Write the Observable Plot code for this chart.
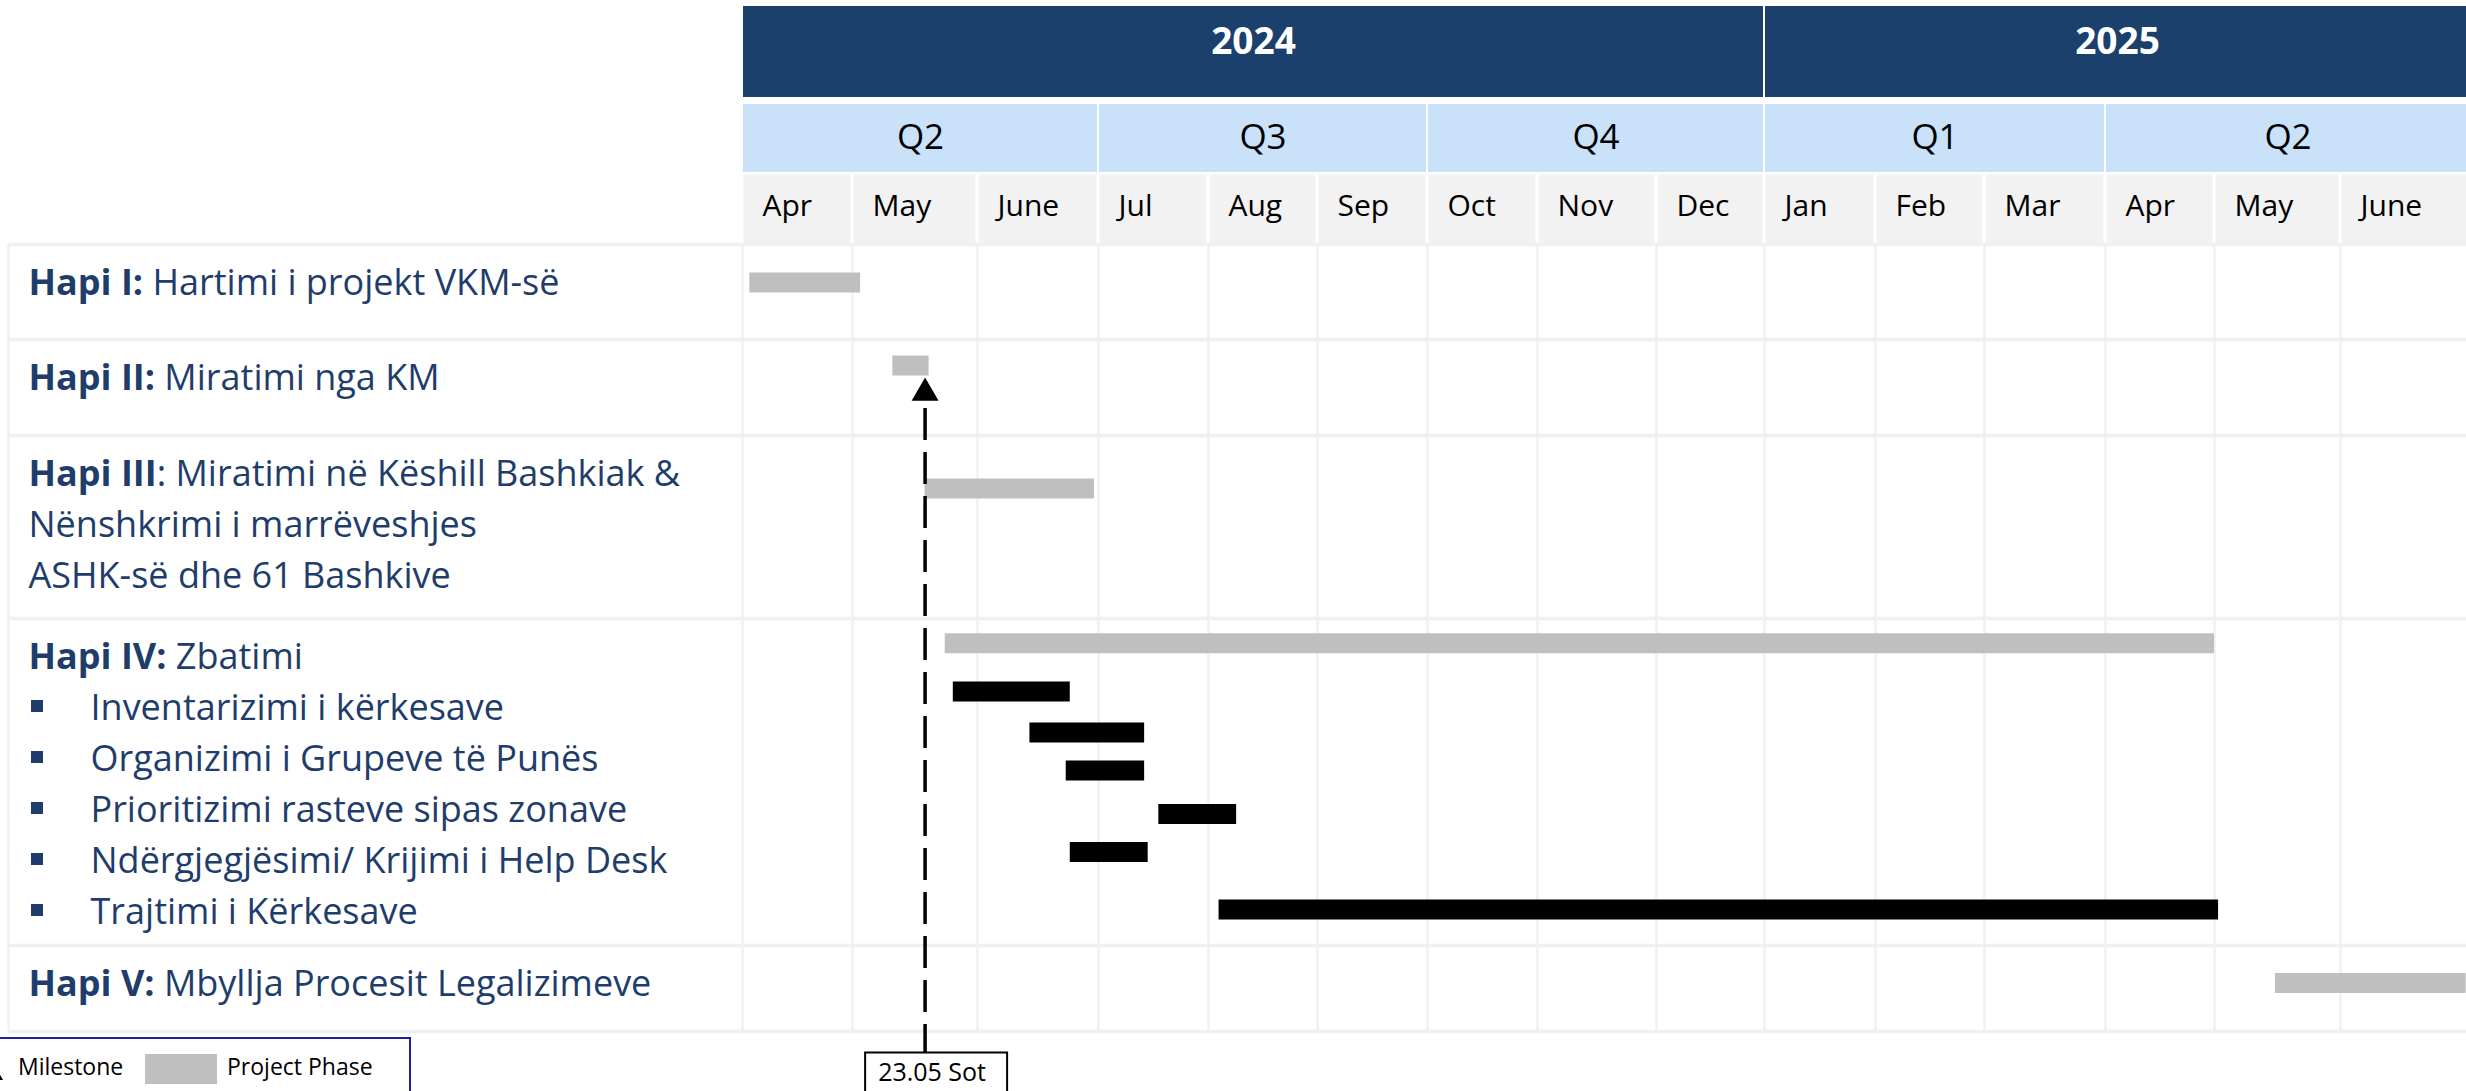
<!DOCTYPE html>
<html>
<head>
<meta charset="utf-8">
<script src="https://cdn.jsdelivr.net/npm/d3@7"></script>
<script src="https://cdn.jsdelivr.net/npm/@observablehq/plot@0.6"></script>
<style>
  html, body { margin: 0; padding: 0; background: #fff; overflow: hidden; }
  #wrap { position: relative; width: 2466px; height: 1091px; overflow: hidden; }
  #legend { position: absolute; left: -40px; top: 1037px; width: 447px; height: 80px;
            border: 2px solid #1f1f99; background: #fff; font-family: "Open Sans", sans-serif;
            font-size: 23px; color: #000; }
  #legend .t { position: absolute; top: 12px; line-height: 30px; white-space: nowrap; }
  #legend .sw { position: absolute; left: 183px; top: 15px; width: 72px; height: 30px; background: #bfbfbf; }
  #legend .tri { position: absolute; left: 25px; top: 27px; width: 0; height: 0;
                 border-left: 8px solid transparent; border-right: 8px solid transparent; border-bottom: 14px solid #000; }
</style>
</head>
<body>
<div id="wrap">
  <div id="chart"></div>
  <div id="legend">
    <div class="tri"></div>
    <div class="t" style="left:56px">Milestone</div>
    <div class="sw"></div>
    <div class="t" style="left:265px">Project Phase</div>
  </div>
</div>
<script>
// ---------------- DATA ----------------
const years = ["2024", "2025"];
const yearMonthCounts = [9, 6];
const quarters = ["Q2", "Q3", "Q4", "Q1", "Q2"];
const quarterMonthCounts = [3, 3, 3, 3, 3];
const months = ["Apr", "May", "June", "Jul", "Aug", "Sep", "Oct", "Nov", "Dec", "Jan", "Feb", "Mar", "Apr", "May", "June"];

const stepTitles = ["Hapi I:", "Hapi II:", "Hapi III", "Hapi IV:", "Hapi V:"];
const stepTexts = [
  [" Hartimi i projekt VKM-së"],
  [" Miratimi nga KM"],
  [": Miratimi në Këshill Bashkiak &", "Nënshkrimi i marrëveshjes", "ASHK-së dhe 61 Bashkive"],
  [" Zbatimi"],
  [" Mbyllja Procesit Legalizimeve"]
];
const subActivities = [
  "Inventarizimi i kërkesave",
  "Organizimi i Grupeve të Punës",
  "Prioritizimi rasteve sipas zonave",
  "Ndërgjegjësimi/ Krijimi i Help Desk",
  "Trajtimi i Kërkesave"
];

// project phases (grey bars): start, end, vertical position (y value in table-row units)
const phaseNames  = ["Hapi I", "Hapi II", "Hapi III", "Hapi IV", "Hapi V"];
const phaseStart  = ["2024-04-03", "2024-05-11", "2024-05-19", "2024-05-24", "2025-05-16"];
const phaseEnd    = ["2024-05-03", "2024-05-20", "2024-06-30", "2025-05-01", "2025-06-30"];
const phaseY      = [0.40, 1.27, 2.29, 3.076, 4.436];

// activities of Hapi IV (black bars)
const activityIds   = ["IV.1", "IV.2", "IV.3", "IV.4", "IV.5", "IV.6"];
const activityStart = ["2024-05-26", "2024-06-14", "2024-06-23", "2024-07-18", "2024-06-24", "2024-08-04"];
const activityEnd   = ["2024-06-24", "2024-07-14", "2024-07-14", "2024-08-09", "2024-07-15", "2025-05-02"];
const activityY     = [3.223, 3.349, 3.465, 3.598, 3.714, 3.890];

// milestone
const milestoneDate = "2024-05-19";
const milestoneLabel = "23.05 Sot";
const milestonePhase = "Hapi II";

// ---------------- LAYOUT (scales) ----------------
const LABEL_COL = -1;                      // the text column left of the months
const xDomain = [LABEL_COL, ...d3.range(16)];
const xRange  = [8, 742, 852, 977, 1098, 1208, 1317, 1427, 1537, 1656, 1764, 1875, 1984, 2105, 2214, 2340, 2470];
const yDomain = [-3, -2, -1, 0, 1, 2, 3, 4, 5];          // year, quarter, month bands, then 5 table rows
const yRange  = [6, 100.5, 173.5, 244, 339, 435, 618, 945, 1031];
const xs = d3.scaleLinear(xDomain, xRange);

// month index since April 2024 (fractional)
function mIdx(s) {
  const [y, m, d] = s.split("-").map(Number);
  const dim = new Date(y, m, 0).getDate();
  return (y - 2024) * 12 + (m - 4) + (d - 1) / dim;
}
function spans(counts, labels) {
  let acc = 0;
  return labels.map((label, i) => { const x1 = acc; acc += counts[i]; return {label, x1, x2: acc}; });
}
function visualMid(d) { return xs.invert((xs(d.x1) + xs(d.x2)) / 2); }

const yearCells = spans(yearMonthCounts, years);
const quarterCells = spans(quarterMonthCounts, quarters);
const monthCells = months.map((label, i) => ({label, x1: i, x2: i + 1}));

const phases = phaseNames.map((name, i) => ({name, start: mIdx(phaseStart[i]), end: mIdx(phaseEnd[i]), y: phaseY[i]}));
const activities = activityIds.map((id, i) => ({id, start: mIdx(activityStart[i]), end: mIdx(activityEnd[i]), y: activityY[i]}));
const milestone = [{x: mIdx(milestoneDate), label: milestoneLabel, y: phases.find(p => p.name === milestonePhase).y}];

const labelLines = [];
stepTexts.forEach((lines, r) => lines.forEach((t, k) => labelLines.push({row: r, line: k, bold: k === 0 ? stepTitles[r] : "", text: t, bullet: false})));
subActivities.forEach((t, i) => labelLines.push({row: 3, line: i + 1, bold: "", text: t, bullet: true}));

const NAVY_TEXT = "#1f3d6b";
const LINE_FIRST = 38.5, LINE_PITCH = 51;

const labelMarks = d3.range(6).flatMap(k => {
  const plain = labelLines.filter(d => d.line === k && !d.bullet);
  const bul = labelLines.filter(d => d.line === k && d.bullet);
  const dy = LINE_FIRST + LINE_PITCH * k;
  return [
    Plot.text(plain, {x: LABEL_COL, y: "row", text: d => d.bold + d.text, dx: 20, dy, textAnchor: "start", lineAnchor: "middle",
      fontSize: 36, fill: NAVY_TEXT}),
    Plot.dot(bul, {x: LABEL_COL, y: "row", dx: 28.5, dy: dy - 2, symbol: "square", r: 6.77, fill: NAVY_TEXT, stroke: "none"}),
    Plot.text(bul, {x: LABEL_COL, y: "row", text: "text", dx: 82, dy, textAnchor: "start", lineAnchor: "middle",
      fontSize: 36, fill: NAVY_TEXT})
  ];
});

const chart = Plot.plot({
  width: 2466,
  height: 1091,
  margin: 0,
  x: {type: "linear", domain: xDomain, range: xRange, axis: null},
  y: {type: "linear", domain: yDomain, range: yRange, axis: null},
  style: {fontFamily: '"Open Sans", sans-serif', background: "white", overflow: "hidden"},
  marks: [
    // header
    Plot.rect(yearCells, {x1: "x1", x2: "x2", y1: -3, y2: -2, fill: "#1b406c", insetLeft: 1, insetRight: 1, insetBottom: 3.5}),
    Plot.text(yearCells, {x: visualMid, y: -2.5, dy: -12, text: "label", fill: "white", fontWeight: "bold", fontSize: 37, lineAnchor: "middle"}),
    Plot.rect(quarterCells, {x1: "x1", x2: "x2", y1: -2, y2: -1, fill: "#c9e2f9", insetLeft: 1, insetRight: 1, insetTop: 3.5, insetBottom: 1.5}),
    Plot.text(quarterCells, {x: visualMid, y: -1.5, text: "label", fill: "#000", fontSize: 35, lineAnchor: "middle"}),
    Plot.rect(monthCells, {x1: "x1", x2: "x2", y1: -1, y2: 0, fill: "#f2f2f2", insetLeft: 1.5, insetRight: 1.5, insetTop: 1, insetBottom: 1}),
    Plot.text(monthCells, {x: "x1", y: -0.5, dx: 20, dy: -2.5, text: "label", fill: "#000", fontSize: 30, textAnchor: "start", lineAnchor: "middle"}),
    // table grid
    Plot.ruleX(xDomain, {x: d => d, y1: 0, y2: 5, stroke: "#f0f0f0", strokeWidth: 2.5}),
    Plot.ruleY(d3.range(6), {y: d => d, x1: LABEL_COL, x2: 15, stroke: "#f0f0f0", strokeWidth: 3.5}),
    // labels
    ...labelMarks,
    // bars
    Plot.ruleY(phases, {x1: "start", x2: "end", y: "y", stroke: "#bfbfbf", strokeWidth: 20}),
    Plot.ruleY(activities, {x1: "start", x2: "end", y: "y", stroke: "#000", strokeWidth: 20}),
    // milestone
    Plot.ruleX(milestone, {x: "x", y1: "y", y2: 5, insetTop: 43, insetBottom: -21, stroke: "#000", strokeWidth: 3.5, strokeDasharray: "32,12"}),
    Plot.dot(milestone, {x: "x", y: "y", dy: 27.6, symbol: "triangle", r: 10, fill: "#000", stroke: "none"}),
    Plot.text(milestone, {x: "x", y: 5, dx: 7, dy: 41, text: "label", fontSize: 25, fill: "#000", lineAnchor: "middle"})
  ]
});

document.getElementById("chart").appendChild(chart);

// mixed bold / regular step titles (matched by their text content)
const svgNS = "http://www.w3.org/2000/svg";
const allTexts = Array.from(chart.querySelectorAll("text"));
labelLines.filter(d => d.bold).forEach(d => {
  const full = d.bold + d.text;
  const el = allTexts.find(t => t.textContent === full);
  if (!el) return;
  el.textContent = "";
  el.style.whiteSpace = "pre";
  const b = document.createElementNS(svgNS, "tspan");
  b.setAttribute("font-weight", "bold");
  b.textContent = d.bold;
  const t = document.createElementNS(svgNS, "tspan");
  t.textContent = d.text;
  el.appendChild(b); el.appendChild(t);
});

// box around milestone label
allTexts.filter(t => t.textContent === milestoneLabel).forEach(el => {
  const bb = el.getBBox();
  const r = document.createElementNS(svgNS, "rect");
  r.setAttribute("x", bb.x - 13);
  r.setAttribute("y", bb.y - 1);
  r.setAttribute("width", bb.width + 34);
  r.setAttribute("height", 80);
  r.setAttribute("fill", "white");
  r.setAttribute("stroke", "#000");
  r.setAttribute("stroke-width", 2);
  const tr = el.getAttribute("transform");
  if (tr) r.setAttribute("transform", tr);
  el.parentNode.insertBefore(r, el);
});
</script>
</body>
</html>
